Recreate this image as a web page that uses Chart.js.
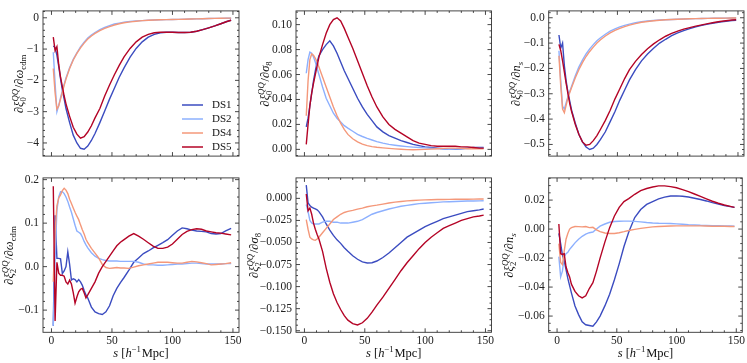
<!DOCTYPE html>
<html><head><meta charset="utf-8">
<script src="https://cdn.jsdelivr.net/npm/chart.js@4.4.0/dist/chart.umd.min.js"></script>
<style>
html,body{margin:0;padding:0;background:#fff;}
#wrap{position:relative;width:747px;height:363px;overflow:hidden;background:#fff;}
canvas{position:absolute;}
</style></head><body><div id="wrap"></div>
<script>
// ---------------- DATA ----------------
const seriesNames = ['DS1','DS2','DS4','DS5'];
const seriesColors = ['#3b4cc0','#8db0fe','#f4987a','#b40426'];

const S = [1.5,3,4.5,6,7.5,9,10.5,12,15,18,21,24,27,30,33,36,40,44,48,52,56,60,65,70,75,80,85,90,95,100,105,110,115,120,125,130,135,140,145,148.5];
const S_BL = [1.5,3,4.5,6,7.5,9,10.5,12,13.5,15,16.5,18,19.5,21,22.5,24,25.5,27,28.5,30,33,36,39,42,45,48,51,54,57,60,64,68,72,76,80,84,88,92,96,100,104,108,112,116,120,124,128,132,136,140,144,148.5];

// top-left: d xi0 / d omega_cdm
const tl_DS1 = [-0.9,-0.95,-1.2,-1.55,-1.95,-2.3,-2.6,-2.9,-3.35,-3.75,-4.0,-4.17,-4.2,-4.1,-3.92,-3.7,-3.35,-2.98,-2.6,-2.25,-1.9,-1.6,-1.26,-0.98,-0.77,-0.62,-0.53,-0.48,-0.46,-0.46,-0.47,-0.47,-0.46,-0.43,-0.38,-0.32,-0.26,-0.19,-0.12,-0.08];
const tl_DS2 = [-1.1,-2.1,-3.0,-2.8,-2.55,-2.33,-2.12,-1.92,-1.6,-1.33,-1.12,-0.93,-0.78,-0.65,-0.55,-0.47,-0.38,-0.31,-0.25,-0.2,-0.17,-0.14,-0.12,-0.1,-0.09,-0.08,-0.07,-0.065,-0.06,-0.055,-0.05,-0.045,-0.04,-0.035,-0.03,-0.025,-0.02,-0.02,-0.015,-0.015];
const tl_DS4 = [-1.62,-2.4,-2.92,-2.82,-2.6,-2.38,-2.16,-1.96,-1.62,-1.35,-1.14,-0.96,-0.81,-0.68,-0.58,-0.5,-0.41,-0.34,-0.28,-0.23,-0.19,-0.16,-0.13,-0.11,-0.09,-0.08,-0.07,-0.065,-0.06,-0.055,-0.05,-0.045,-0.04,-0.035,-0.03,-0.025,-0.02,-0.015,-0.01,-0.01];
const tl_DS5 = [-0.62,-1.05,-0.92,-1.5,-1.9,-2.2,-2.5,-2.75,-3.15,-3.5,-3.72,-3.85,-3.8,-3.65,-3.45,-3.2,-2.9,-2.5,-2.15,-1.82,-1.52,-1.25,-0.98,-0.77,-0.62,-0.53,-0.48,-0.46,-0.46,-0.46,-0.47,-0.47,-0.46,-0.43,-0.38,-0.32,-0.26,-0.19,-0.12,-0.08];

// top-middle: d xi0 / d sigma8
const tm_DS1 = [0.018,0.025,0.035,0.045,0.055,0.063,0.07,0.075,0.08,0.084,0.087,0.083,0.077,0.07,0.063,0.057,0.049,0.041,0.034,0.028,0.023,0.018,0.014,0.011,0.009,0.007,0.0055,0.004,0.003,0.002,0.0015,0.001,0.0005,0.0,0.0,0.0005,0.001,0.0015,0.0015,0.0015];
const tm_DS2 = [0.061,0.072,0.078,0.077,0.074,0.07,0.065,0.06,0.05,0.041,0.035,0.029,0.025,0.022,0.019,0.017,0.0145,0.012,0.0103,0.0088,0.0075,0.0062,0.005,0.004,0.0033,0.0027,0.0022,0.0018,0.0015,0.0012,0.0009,0.0006,0.0003,0.0001,0.0002,0.0004,0.0006,0.0008,0.001,0.001];
const tm_DS4 = [0.027,0.055,0.072,0.0765,0.0755,0.073,0.07,0.066,0.058,0.05,0.042,0.034,0.027,0.021,0.016,0.012,0.0085,0.006,0.0042,0.003,0.0022,0.0017,0.0012,0.0008,0.0004,0.0001,-0.0002,-0.0003,-0.0002,0.0,0.0002,0.0005,0.0008,0.001,0.001,0.0008,0.0005,0.0005,0.0005,0.0005];
const tm_DS5 = [0.004,0.02,0.035,0.045,0.053,0.06,0.067,0.074,0.084,0.093,0.1,0.104,0.1055,0.103,0.097,0.09,0.081,0.071,0.061,0.051,0.042,0.034,0.026,0.02,0.016,0.013,0.01,0.007,0.005,0.004,0.003,0.0025,0.0025,0.0025,0.0025,0.002,0.002,0.0015,0.001,0.001];

// top-right: d xi0 / d n_s
const tr_DS1 = [-0.068,-0.12,-0.1,-0.19,-0.25,-0.295,-0.33,-0.365,-0.415,-0.46,-0.49,-0.51,-0.52,-0.515,-0.5,-0.48,-0.45,-0.41,-0.37,-0.325,-0.285,-0.245,-0.205,-0.17,-0.143,-0.12,-0.1,-0.085,-0.071,-0.06,-0.051,-0.043,-0.036,-0.03,-0.025,-0.021,-0.017,-0.014,-0.011,-0.01];
const tr_DS2 = [-0.13,-0.25,-0.35,-0.36,-0.335,-0.31,-0.29,-0.27,-0.23,-0.195,-0.167,-0.143,-0.123,-0.106,-0.091,-0.079,-0.065,-0.053,-0.044,-0.036,-0.03,-0.025,-0.02,-0.016,-0.013,-0.011,-0.009,-0.008,-0.007,-0.006,-0.005,-0.004,-0.0035,-0.003,-0.0025,-0.002,-0.002,-0.0015,-0.001,-0.001];
const tr_DS4 = [-0.15,-0.27,-0.36,-0.375,-0.345,-0.315,-0.295,-0.275,-0.238,-0.205,-0.177,-0.153,-0.133,-0.116,-0.1,-0.087,-0.072,-0.06,-0.05,-0.042,-0.035,-0.029,-0.023,-0.018,-0.015,-0.012,-0.01,-0.008,-0.007,-0.006,-0.005,-0.004,-0.0035,-0.003,-0.0025,-0.002,-0.002,-0.0015,-0.001,-0.001];
const tr_DS5 = [-0.105,-0.13,-0.17,-0.215,-0.26,-0.3,-0.34,-0.37,-0.42,-0.46,-0.49,-0.503,-0.5,-0.485,-0.465,-0.44,-0.405,-0.365,-0.32,-0.28,-0.24,-0.205,-0.172,-0.145,-0.122,-0.103,-0.087,-0.073,-0.062,-0.053,-0.045,-0.039,-0.033,-0.028,-0.023,-0.019,-0.015,-0.012,-0.009,-0.008];

// bottom-left: d xi2 / d omega_cdm
const bl_DS1 = [-0.136,0.118,0.019,0.019,0.018,-0.016,-0.01,0.0,0.034,0.005,-0.031,-0.028,-0.03,-0.035,-0.03,-0.035,-0.043,-0.055,-0.065,-0.072,-0.093,-0.104,-0.108,-0.11,-0.104,-0.09,-0.067,-0.05,-0.037,-0.025,-0.008,0.01,0.02,0.03,0.036,0.043,0.049,0.055,0.062,0.072,0.082,0.089,0.087,0.084,0.082,0.081,0.08,0.076,0.075,0.076,0.082,0.088];
const bl_DS2 = [-0.136,0.02,0.13,0.16,0.172,0.172,0.168,0.16,0.15,0.137,0.125,0.11,0.095,0.082,0.079,0.076,0.068,0.058,0.05,0.043,0.032,0.024,0.019,0.016,0.014,0.013,0.013,0.013,0.012,0.012,0.012,0.012,0.01,0.006,0.004,0.004,0.003,0.003,0.004,0.005,0.006,0.006,0.007,0.008,0.008,0.007,0.006,0.006,0.006,0.006,0.007,0.007];
const bl_DS4 = [-0.035,0.08,0.14,0.158,0.165,0.175,0.18,0.176,0.168,0.155,0.145,0.135,0.125,0.116,0.108,0.096,0.085,0.075,0.063,0.055,0.042,0.031,0.02,0.005,-0.002,-0.004,-0.003,-0.002,-0.003,-0.003,-0.004,-0.001,0.002,0.004,0.006,0.008,0.01,0.01,0.01,0.009,0.008,0.008,0.01,0.012,0.011,0.009,0.007,0.004,0.005,0.006,0.007,0.009];
const bl_DS5 = [0.185,-0.125,0.01,-0.015,-0.02,-0.02,-0.022,-0.035,-0.04,-0.031,-0.04,-0.06,-0.084,-0.07,-0.058,-0.052,-0.05,-0.06,-0.072,-0.065,-0.05,-0.035,-0.015,0.0,0.012,0.024,0.036,0.048,0.056,0.062,0.07,0.076,0.07,0.063,0.055,0.047,0.042,0.042,0.045,0.052,0.063,0.074,0.081,0.085,0.087,0.086,0.082,0.08,0.078,0.077,0.075,0.073];

// bottom-middle: d xi2 / d sigma8
const bm_DS1 = [0.015,-0.005,-0.008,-0.01,-0.011,-0.012,-0.013,-0.015,-0.021,-0.029,-0.036,-0.042,-0.047,-0.051,-0.056,-0.06,-0.065,-0.069,-0.072,-0.0733,-0.073,-0.071,-0.067,-0.062,-0.056,-0.05,-0.044,-0.04,-0.036,-0.032,-0.029,-0.026,-0.023,-0.021,-0.019,-0.017,-0.015,-0.014,-0.013,-0.012];
const bm_DS2 = [-0.007,-0.015,-0.025,-0.028,-0.029,-0.029,-0.029,-0.029,-0.027,-0.026,-0.026,-0.027,-0.027,-0.028,-0.028,-0.028,-0.027,-0.026,-0.024,-0.021,-0.018,-0.016,-0.014,-0.012,-0.0105,-0.009,-0.008,-0.007,-0.006,-0.0055,-0.005,-0.0045,-0.004,-0.0038,-0.0035,-0.0032,-0.003,-0.003,-0.0028,-0.0027];
const bm_DS4 = [-0.024,-0.035,-0.044,-0.046,-0.047,-0.0475,-0.046,-0.044,-0.039,-0.034,-0.029,-0.024,-0.021,-0.018,-0.016,-0.0148,-0.0136,-0.0122,-0.011,-0.0095,-0.0085,-0.0077,-0.0065,-0.0053,-0.0043,-0.0035,-0.0028,-0.0024,-0.002,-0.0017,-0.0015,-0.0013,-0.0012,-0.0011,-0.001,-0.001,-0.001,-0.0009,-0.0008,-0.0008];
const bm_DS5 = [0.005,-0.014,-0.011,-0.018,-0.028,-0.035,-0.041,-0.046,-0.06,-0.079,-0.095,-0.108,-0.118,-0.126,-0.133,-0.138,-0.142,-0.1435,-0.141,-0.136,-0.129,-0.121,-0.112,-0.102,-0.092,-0.082,-0.073,-0.065,-0.057,-0.05,-0.044,-0.039,-0.034,-0.031,-0.028,-0.025,-0.023,-0.021,-0.02,-0.019];

// bottom-right: d xi2 / d n_s
const br_DS1 = [-0.003,-0.01,-0.018,-0.022,-0.028,-0.034,-0.039,-0.044,-0.053,-0.059,-0.064,-0.066,-0.0665,-0.067,-0.064,-0.06,-0.053,-0.045,-0.035,-0.024,-0.012,-0.002,0.008,0.0135,0.017,0.019,0.0208,0.022,0.0228,0.0229,0.0226,0.0221,0.0213,0.0204,0.0194,0.0182,0.0172,0.0163,0.0155,0.015];
const br_DS2 = [-0.019,-0.033,-0.029,-0.019,-0.017,-0.016,-0.014,-0.0125,-0.0095,-0.007,-0.005,-0.0035,-0.0025,-0.002,0.0,0.002,0.0035,0.0047,0.0052,0.0054,0.0055,0.0055,0.0053,0.005,0.0045,0.0042,0.004,0.0039,0.0038,0.0036,0.0033,0.003,0.0028,0.0026,0.0025,0.0024,0.0023,0.0022,0.0021,0.002];
const br_DS4 = [-0.01,-0.023,-0.0245,-0.015,-0.007,-0.003,0.0,0.001,0.0018,0.0017,0.0015,0.0018,0.001,0.0012,-0.0005,-0.0018,-0.0027,-0.003,-0.003,-0.0025,-0.0018,-0.001,-0.0002,0.0005,0.001,0.0015,0.0018,0.002,0.0021,0.0022,0.0022,0.0022,0.0022,0.0022,0.0021,0.002,0.002,0.0019,0.0018,0.0018];
const br_DS5 = [0.0035,-0.017,-0.0175,-0.017,-0.026,-0.03,-0.033,-0.038,-0.043,-0.046,-0.0475,-0.046,-0.041,-0.037,-0.029,-0.02,-0.009,0.001,0.009,0.015,0.019,0.021,0.024,0.0265,0.028,0.029,0.0298,0.0298,0.0293,0.0285,0.0272,0.0258,0.0242,0.0225,0.0208,0.0192,0.0178,0.0166,0.0157,0.015];

// tick values
const xTicks = [0,50,100,150];
const yTicksTL = [0,-1,-2,-3,-4];
const yTicksTM = [0,0.02,0.04,0.06,0.08,0.10];
const yTicksTR = [0,-0.1,-0.2,-0.3,-0.4,-0.5];
const yTicksBL = [-0.1,0,0.1,0.2];
const yTicksBM = [0,-0.025,-0.05,-0.075,-0.1,-0.125,-0.15];
const yTicksBR = [-0.06,-0.04,-0.02,0,0.02];

// ---------------- RENDERING ----------------
const FONT = '"Liberation Serif", "Times New Roman", serif';
const TICK_SIZE = 11.5, LABEL_SIZE = 12.5;
const XMIN = -7, XMAX = 155;
const wrap = document.getElementById('wrap');

function fmt(v, dec){ const a = Math.abs(v) < 1e-12 ? 0 : v; return (a < 0 ? '\u2212' : '') + Math.abs(a).toFixed(dec); }
function fnt(sz, it){ return (it ? 'italic ' : '') + sz.toFixed(2) + 'px ' + FONT; }
function layoutRich(ctx, parts, size){
  const items = []; let x = 0;
  for (const p of parts){
    if (p.t !== undefined){
      ctx.font = fnt(size, p.it);
      items.push({t:p.t, x, dy:0, sz:size, it:p.it});
      x += ctx.measureText(p.t).width;
    } else {
      let w = 0; const ss = size*0.7;
      if (p.sub !== undefined){ ctx.font = fnt(ss, p.subIt); items.push({t:p.sub, x, dy:size*0.24, sz:ss, it:p.subIt}); w = Math.max(w, ctx.measureText(p.sub).width); }
      if (p.sup !== undefined){ ctx.font = fnt(ss, p.supIt); items.push({t:p.sup, x, dy:-size*0.42, sz:ss, it:p.supIt}); w = Math.max(w, ctx.measureText(p.sup).width); }
      x += w + size*0.06;
    }
  }
  return {items, width:x};
}
function drawRich(ctx, parts, cx, cy, size, rot){
  ctx.save(); ctx.translate(cx, cy); if (rot) ctx.rotate(-Math.PI/2);
  const L = layoutRich(ctx, parts, size);
  ctx.fillStyle = '#111'; ctx.textBaseline = 'alphabetic'; ctx.textAlign = 'left';
  const x0 = -L.width/2, base = size*0.3;
  for (const it of L.items){ ctx.font = fnt(it.sz, it.it); ctx.fillText(it.t, x0 + it.x, base + it.dy); }
  ctx.restore();
}
const num = (l) => [{t:'\u2202'},{t:'\u03BE',it:true},{sub:l,sup:'QQ',supIt:true},{t:'/\u2202'}];
const denOm = [{t:'\u03C9',it:true},{sub:'cdm'}];
const denS8 = [{t:'\u03C3',it:true},{sub:'8'}];
const denNs = [{t:'n',it:true},{sub:'s',subIt:true}];
const xLabelParts = [{t:'s',it:true},{t:' ['},{t:'h',it:true},{sup:'\u22121'},{t:'Mpc]'}];

const panels = [
  {x0:0,   y0:0,   w:246, h:167, L:43,    T:3.3, R:239,   B:161,   ymin:-4.42,  ymax:0.22,   ticks:yTicksTL, dec:0, div:5, s:S,    series:[tl_DS1,tl_DS2,tl_DS4,tl_DS5], ylab:num('0').concat(denOm), ylx:19,    xlab:false, legend:true},
  {x0:246, y0:0,   w:251, h:167, L:296,   T:3.3, R:491.5, B:161,   ymin:-0.0054,ymax:0.111,  ticks:yTicksTM, dec:2, div:4, s:S,    series:[tm_DS1,tm_DS2,tm_DS4,tm_DS5], ylab:num('0').concat(denS8), ylx:265.5, xlab:false},
  {x0:497, y0:0,   w:250, h:167, L:548.7, T:3.3, R:744,   B:161,   ymin:-0.546, ymax:0.027,  ticks:yTicksTR, dec:1, div:5, s:S,    series:[tr_DS1,tr_DS2,tr_DS4,tr_DS5], ylab:num('0').concat(denNs), ylx:516.5, xlab:false},
  {x0:0,   y0:167, w:246, h:196, L:43,    T:174, R:239,   B:332.3, ymin:-0.151, ymax:0.204,  ticks:yTicksBL, dec:1, div:5, s:S_BL, series:[bl_DS1,bl_DS2,bl_DS4,bl_DS5], ylab:num('2').concat(denOm), ylx:9,     xlab:true},
  {x0:246, y0:167, w:251, h:196, L:296,   T:174, R:491.5, B:332.3, ymin:-0.1518,ymax:0.0232, ticks:yTicksBM, dec:3, div:4, s:S,    series:[bm_DS1,bm_DS2,bm_DS4,bm_DS5], ylab:num('2').concat(denS8), ylx:254,   xlab:true},
  {x0:497, y0:167, w:250, h:196, L:548.7, T:174, R:744,   B:332.3, ymin:-0.0712,ymax:0.0353, ticks:yTicksBR, dec:2, div:4, s:S,    series:[br_DS1,br_DS2,br_DS4,br_DS5], ylab:num('2').concat(denNs), ylx:509.5, xlab:true}
];

function makePanel(p){
  const cv = document.createElement('canvas');
  cv.width = p.w; cv.height = p.h;
  cv.style.left = p.x0 + 'px'; cv.style.top = p.y0 + 'px';
  cv.style.width = p.w + 'px'; cv.style.height = p.h + 'px';
  wrap.appendChild(cv);
  const datasets = p.series.map((arr, i) => ({
    label: seriesNames[i],
    data: p.s.map((x, j) => ({x, y: arr[j]})),
    borderColor: seriesColors[i], backgroundColor: seriesColors[i],
    borderWidth: 1.4, pointRadius: 0, fill: false, tension: 0, order: 3 - i
  }));
  const deco = {
    id: 'deco',
    afterDraw(chart){
      const ctx = chart.ctx, a = chart.chartArea, xs = chart.scales.x, ys = chart.scales.y;
      ctx.save();
      ctx.strokeStyle = '#333'; ctx.lineWidth = 0.9;
      ctx.strokeRect(a.left, a.top, a.right - a.left, a.bottom - a.top);
      const maj = 4, mnr = 2;
      ctx.beginPath();
      const xStep = (xTicks[1] - xTicks[0]) / 5;
      for (let v = Math.ceil(XMIN / xStep) * xStep; v <= XMAX + 1e-9; v += xStep){
        const isMaj = xTicks.some(t => Math.abs(t - v) < 1e-9);
        const len = isMaj ? maj : mnr, px = xs.getPixelForValue(v);
        ctx.moveTo(px, a.bottom); ctx.lineTo(px, a.bottom - len);
        ctx.moveTo(px, a.top); ctx.lineTo(px, a.top + len);
      }
      const yStep = Math.abs(p.ticks[1] - p.ticks[0]) / p.div;
      for (let k = Math.ceil(p.ymin / yStep - 1e-9); k * yStep <= p.ymax + 1e-12; k++){
        const v = k * yStep;
        const isMaj = p.ticks.some(t => Math.abs(t - v) < yStep * 1e-3);
        const len = isMaj ? maj : mnr, py = ys.getPixelForValue(v);
        ctx.moveTo(a.left, py); ctx.lineTo(a.left + len, py);
        ctx.moveTo(a.right, py); ctx.lineTo(a.right - len, py);
      }
      ctx.stroke();
      drawRich(ctx, p.ylab, p.ylx - p.x0, (a.top + a.bottom) / 2, LABEL_SIZE, true);
      if (p.xlab) drawRich(ctx, xLabelParts, (a.left + a.right) / 2, 353 - p.y0, LABEL_SIZE, false);
      if (p.legend){
        ctx.font = fnt(11, false); ctx.textBaseline = 'middle'; ctx.textAlign = 'left';
        chart.data.datasets.forEach((d, i) => {
          const yy = 105 + 14 * i - p.y0;
          ctx.strokeStyle = d.borderColor; ctx.lineWidth = 1.5;
          ctx.beginPath(); ctx.moveTo(182 - p.x0, yy); ctx.lineTo(203 - p.x0, yy); ctx.stroke();
          ctx.fillStyle = '#111'; ctx.fillText(d.label, 212 - p.x0, yy);
        });
      }
      ctx.restore();
    }
  };
  new Chart(cv, {
    type: 'line',
    data: {datasets},
    options: {
      responsive: false, animation: false, devicePixelRatio: 1,
      layout: {padding: {left: 0, top: p.T - p.y0, right: p.x0 + p.w - p.R, bottom: 0}},
      plugins: {legend: {display: false}, tooltip: {enabled: false}},
      scales: {
        x: {type: 'linear', min: XMIN, max: XMAX,
            grid: {display: false, drawTicks: false}, border: {display: false},
            afterBuildTicks: s => { s.ticks = xTicks.map(v => ({value: v})); },
            afterFit: s => { s.height = p.y0 + p.h - p.B; },
            ticks: {display: p.xlab, padding: 2, color: '#222', font: {family: FONT, size: TICK_SIZE}, maxRotation: 0, autoSkip: false, callback: v => fmt(v, 0)}},
        y: {type: 'linear', min: p.ymin, max: p.ymax,
            grid: {display: false, drawTicks: false}, border: {display: false},
            afterBuildTicks: s => { s.ticks = p.ticks.map(v => ({value: v})); },
            afterFit: s => { s.width = p.L - p.x0; },
            ticks: {padding: 4, color: '#222', font: {family: FONT, size: TICK_SIZE}, autoSkip: false, callback: v => fmt(v, p.dec)}}
      }
    },
    plugins: [deco]
  });
}
panels.forEach(makePanel);
</script>
</body></html>
